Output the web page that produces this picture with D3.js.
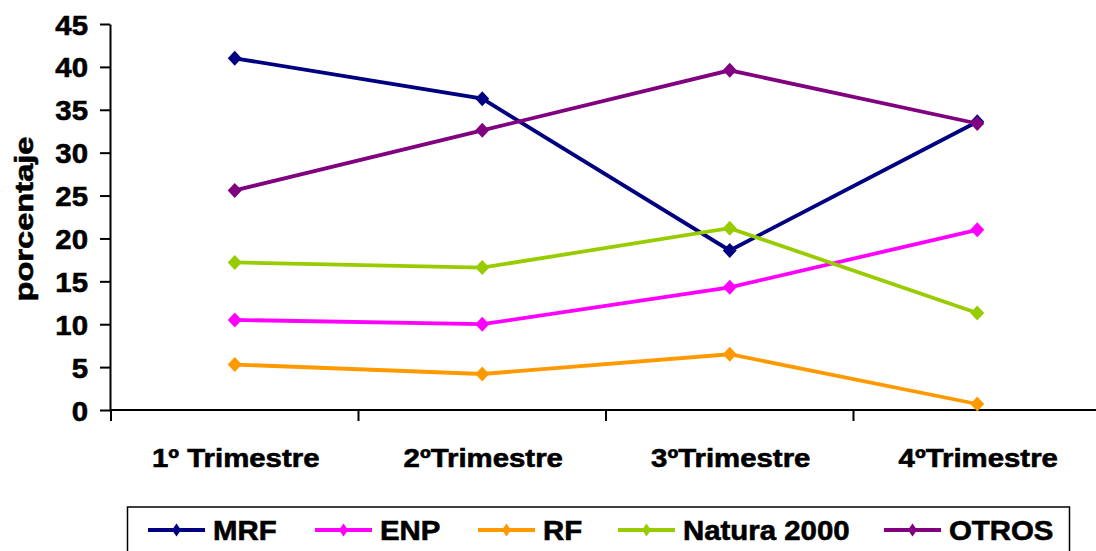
<!DOCTYPE html>
<html>
<head>
<meta charset="utf-8">
<script src="https://cdn.jsdelivr.net/npm/d3@7"></script>
<style>
  html, body { margin: 0; padding: 0; background: #fff; }
  svg { display: block; }
  text { font-family: "Liberation Sans", Arial, sans-serif; font-weight: bold; fill: #000; stroke: #000; stroke-width: 0.6px; }
</style>
</head>
<body>
<svg id="chart" width="1096" height="551"></svg>
<script>
const categories = ["1º Trimestre", "2ºTrimestre", "3ºTrimestre", "4ºTrimestre"];
const seriesNames = ["MRF", "ENP", "RF", "Natura 2000", "OTROS"];
const seriesColors = ["#000080", "#FF00FF", "#FF9900", "#99CC00", "#800080"];
const MRF = [41.0, 36.3, 18.6, 33.6];
const ENP = [10.5, 10.0, 14.3, 21.0];
const RF = [5.3, 4.2, 6.5, 0.7];
const NATURA = [17.2, 16.6, 21.2, 11.3];
const OTROS = [25.6, 32.6, 39.6, 33.4];
const yTicks = [0, 5, 10, 15, 20, 25, 30, 35, 40, 45];
const yTitle = "porcentaje";

const seriesValues = [MRF, ENP, RF, NATURA, OTROS];
const series = seriesNames.map((n, i) => ({ name: n, color: seriesColors[i], values: seriesValues[i] }));

const svg = d3.select("#chart");
const x = d3.scaleBand().domain(categories).range([111, 1101]);
const y = d3.scaleLinear().domain([0, 45]).range([410, 24]);

// Y axis
const yAxis = svg.append("g").attr("transform", "translate(110,0)")
  .call(d3.axisLeft(y).tickValues(yTicks).tickSize(10).tickSizeOuter(0));
yAxis.select(".domain").attr("stroke", "#000").attr("stroke-width", 2);
yAxis.selectAll(".tick line").attr("stroke", "#000").attr("stroke-width", 2);
yAxis.selectAll(".tick text")
  .attr("x", 0).attr("dy", "0.36em")
  .style("font-size", "28px").style("font-family", "Liberation Sans, Arial, sans-serif").style("font-weight", "bold")
  .attr("text-anchor", "end")
  .attr("transform", "translate(-22,0) scale(1.05,1)");

// X axis
const xAxis = svg.append("g").attr("transform", "translate(0,410)")
  .call(d3.axisBottom(x).tickSize(0).tickSizeOuter(0).tickPadding(0));
xAxis.select(".domain").attr("stroke", "#000").attr("stroke-width", 2)
  .attr("d", "M110,0H1096");
xAxis.selectAll(".tick text")
  .attr("y", 0).attr("dy", 0)
  .style("font-size", "26px").style("font-family", "Liberation Sans, Arial, sans-serif").style("font-weight", "bold")
  .attr("transform", "translate(1,57) scale(1.13,1)");
// category boundary ticks
const bounds = categories.map(c => x(c));
svg.append("g").selectAll("line").data(bounds).join("line")
  .attr("x1", d => d).attr("x2", d => d)
  .attr("y1", 410).attr("y2", 421)
  .attr("stroke", "#000").attr("stroke-width", 2);

// y title
svg.append("text")
  .attr("transform", "translate(33,219) rotate(-90)")
  .attr("text-anchor", "middle")
  .style("font-size", "25px")
  .attr("textLength", 165).attr("lengthAdjust", "spacingAndGlyphs")
  .text(yTitle);

// lines
const cx = c => x(c) + x.bandwidth() / 2;
const line = d3.line().x((d, i) => cx(categories[i])).y(d => y(d));
const diamond = (w, h) => `M0,${-h/2}L${w/2},0L0,${h/2}L${-w/2},0Z`;

const gS = svg.append("g").selectAll("g").data(series).join("g");
gS.append("path")
  .attr("d", d => line(d.values))
  .attr("fill", "none").attr("stroke", d => d.color).attr("stroke-width", 3.8);
gS.selectAll("path.m").data(d => d.values.map((v, i) => ({ v, i, color: d.color }))).join("path")
  .attr("class", "m")
  .attr("transform", d => `translate(${cx(categories[d.i])},${y(d.v)})`)
  .attr("d", diamond(14, 15))
  .attr("fill", d => d.color);

// legend
const legendX = [148, 315, 478, 618, 884];
svg.append("rect").attr("x", 127.5).attr("y", 507).attr("width", 942).attr("height", 60)
  .attr("fill", "none").attr("stroke", "#000").attr("stroke-width", 1.5);
const lg = svg.append("g").selectAll("g").data(series).join("g")
  .attr("transform", (d, i) => `translate(${legendX[i]},530)`);
lg.append("line").attr("x1", 0).attr("x2", 57).attr("y1", 0).attr("y2", 0)
  .attr("stroke", d => d.color).attr("stroke-width", 3.8);
lg.append("path").attr("transform", "translate(28.5,0)").attr("d", diamond(9, 13)).attr("fill", d => d.color);
lg.append("text").attr("transform", "translate(65,10) scale(1.05,1)").style("font-size", "28px").text(d => d.name);
</script>
</body>
</html>
